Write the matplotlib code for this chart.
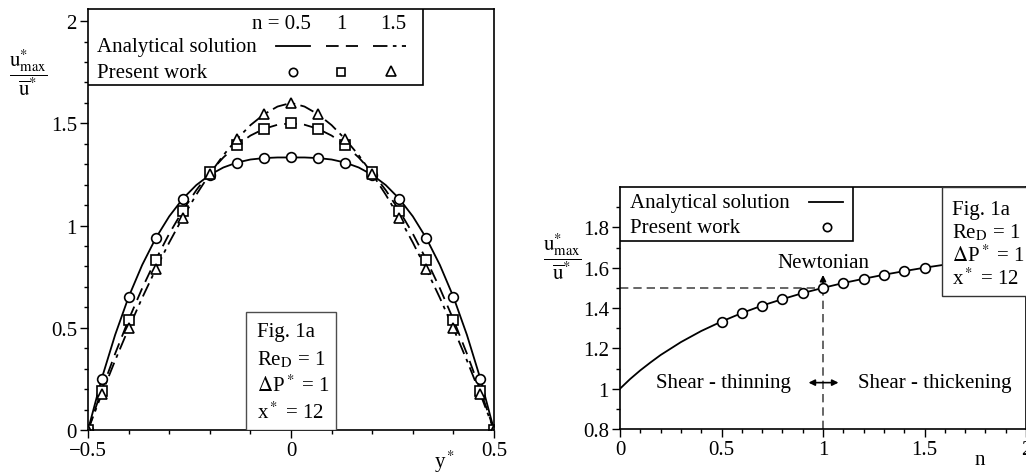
import matplotlib
matplotlib.use("Agg")
import matplotlib.pyplot as plt
from matplotlib.patches import Rectangle
from matplotlib.ticker import MultipleLocator, FixedLocator

plt.rcParams['font.family'] = ['Liberation Serif', 'DejaVu Serif']
plt.rcParams['mathtext.fontset'] = 'stix'
plt.rcParams['font.size'] = 15

# left panel: velocity profiles
y_line = [-0.5, -0.4667, -0.4333, -0.4, -0.3667, -0.3333, -0.3, -0.2667, -0.2333, -0.2,
          -0.1667, -0.1333, -0.1, -0.0667, -0.0333, 0.0, 0.0333, 0.0667, 0.1, 0.1333,
          0.1667, 0.2, 0.2333, 0.2667, 0.3, 0.3333, 0.3667, 0.4, 0.4333, 0.4667, 0.5]
u_n05 = [0.0, 0.249, 0.465, 0.651, 0.807, 0.938, 1.045, 1.131, 1.198, 1.248,
         1.284, 1.308, 1.323, 1.330, 1.333, 1.333, 1.333, 1.330, 1.323, 1.308,
         1.284, 1.248, 1.198, 1.131, 1.045, 0.938, 0.807, 0.651, 0.465, 0.249, 0.0]
u_n1 = [0.0, 0.193, 0.373, 0.540, 0.693, 0.833, 0.960, 1.073, 1.173, 1.260,
        1.333, 1.393, 1.440, 1.473, 1.493, 1.500, 1.493, 1.473, 1.440, 1.393,
        1.333, 1.260, 1.173, 1.073, 0.960, 0.833, 0.693, 0.540, 0.373, 0.193, 0.0]
u_n15 = [0.0, 0.174, 0.340, 0.497, 0.646, 0.786, 0.917, 1.039, 1.151, 1.253,
         1.344, 1.423, 1.491, 1.544, 1.582, 1.600, 1.582, 1.544, 1.491, 1.423,
         1.344, 1.253, 1.151, 1.039, 0.917, 0.786, 0.646, 0.497, 0.340, 0.174, 0.0]

y_pts = [-0.5, -0.4667, -0.4, -0.3333, -0.2667, -0.2, -0.1333, -0.0667, 0.0,
         0.0667, 0.1333, 0.2, 0.2667, 0.3333, 0.4, 0.4667, 0.5]
p_n05 = [0.0, 0.249, 0.651, 0.938, 1.131, 1.248, 1.308, 1.330, 1.333,
         1.330, 1.308, 1.248, 1.131, 0.938, 0.651, 0.249, 0.0]
p_n1 = [0.0, 0.193, 0.540, 0.833, 1.073, 1.260, 1.393, 1.473, 1.500,
        1.473, 1.393, 1.260, 1.073, 0.833, 0.540, 0.193, 0.0]
p_n15 = [0.0, 0.174, 0.497, 0.786, 1.039, 1.253, 1.423, 1.544, 1.600,
         1.544, 1.423, 1.253, 1.039, 0.786, 0.497, 0.174, 0.0]

# right panel: u_max / u_mean against n
n_line = [0.0, 0.025, 0.05, 0.1, 0.15, 0.2, 0.3, 0.4, 0.5, 0.6, 0.7, 0.8, 0.9, 1.0,
          1.1, 1.2, 1.3, 1.4, 1.5, 1.6, 1.7, 1.8, 1.9, 2.0]
r_line = [1.0, 1.024, 1.048, 1.091, 1.130, 1.167, 1.231, 1.286, 1.333, 1.375, 1.412,
          1.444, 1.474, 1.500, 1.524, 1.545, 1.565, 1.583, 1.600, 1.615, 1.630, 1.643,
          1.655, 1.667]
n_pts = [0.5, 0.6, 0.7, 0.8, 0.9, 1.0, 1.1, 1.2, 1.3, 1.4, 1.5]
r_pts = [1.333, 1.375, 1.412, 1.444, 1.474, 1.500, 1.524, 1.545, 1.565, 1.583, 1.600]

info_lines = ['Fig. 1a', 'Re$_\\mathrm{D}$ = 1', '$\\Delta$P$^*$ = 1', 'x$^*$ = 12']
ylab = r'$\dfrac{\mathrm{u}^{*}_{\mathrm{max}}}{\overline{\mathrm{u}}^{*}}$'

mk = dict(markerfacecolor='white', markeredgecolor='black', markeredgewidth=1.2,
          linestyle='none', markersize=7)

fig = plt.figure(figsize=(10.26, 4.77), dpi=100)
ax1 = fig.add_axes([0.0858, 0.0964, 0.3957, 0.883])
ax2 = fig.add_axes([0.6043, 0.0985, 0.3957, 0.5073])

for ax in (ax1, ax2):
    ax.tick_params(which='major', direction='out', length=6, width=1, pad=2)
    ax.tick_params(which='minor', direction='out', length=3, width=1)
    for s in ax.spines.values():
        s.set_linewidth(1.2)

# ---- left panel
ax1.plot(y_line, u_n05, color='black', lw=1.3, ls='-')
ax1.plot(y_line, u_n1, color='black', lw=1.3, ls=(0, (7, 4)))
ax1.plot(y_line, u_n15, color='black', lw=1.3, ls=(0, (8, 3, 2, 3)))
ax1.plot(y_pts, p_n05, marker='o', **mk)
ax1.plot(y_pts, p_n1, marker='s', **dict(mk, markersize=6.5))
ax1.plot(y_pts, p_n15, marker='^', **mk)
ax1.set_xlim(-0.5, 0.5)
ax1.set_ylim(0, 2.06)
ax1.xaxis.set_major_locator(FixedLocator([-0.5, 0, 0.5]))
ax1.xaxis.set_minor_locator(MultipleLocator(0.1))
ax1.yaxis.set_major_locator(FixedLocator([0, 0.5, 1, 1.5, 2]))
ax1.yaxis.set_minor_locator(MultipleLocator(0.1))
ax1.set_xticklabels(['\u22120.5', '0', '0.5'])
ax1.set_yticklabels(['0', '0.5', '1', '1.5', '2'])

# legend table
ax1.add_patch(Rectangle((0, 0.8195), 0.825, 0.1805, transform=ax1.transAxes,
                        facecolor='white', edgecolor='black', lw=1.2, zorder=5))
ax1.text(0.548, 0.964, 'n = 0.5', transform=ax1.transAxes, ha='right', va='center', zorder=6)
ax1.text(0.623, 0.964, '1', transform=ax1.transAxes, ha='center', va='center', zorder=6)
ax1.text(0.751, 0.964, '1.5', transform=ax1.transAxes, ha='center', va='center', zorder=6)
ax1.text(0.022, 0.910, 'Analytical solution', transform=ax1.transAxes, ha='left', va='center', zorder=6)
ax1.text(0.022, 0.850, 'Present work', transform=ax1.transAxes, ha='left', va='center', zorder=6)
ax1.plot([0.463, 0.547], [0.912, 0.912], transform=ax1.transAxes, color='black', lw=1.3, zorder=6)
ax1.plot([0.586, 0.665], [0.912, 0.912], transform=ax1.transAxes, color='black', lw=1.3,
         ls=(0, (7, 4)), zorder=6)
ax1.plot([0.702, 0.783], [0.912, 0.912], transform=ax1.transAxes, color='black', lw=1.3,
         ls=(0, (8, 3, 2, 3)), zorder=6)
ax1.plot([0.505], [0.850], transform=ax1.transAxes, marker='o', zorder=6, **dict(mk, markersize=6))
ax1.plot([0.623], [0.850], transform=ax1.transAxes, marker='s', zorder=6, **dict(mk, markersize=5.5))
ax1.plot([0.746], [0.852], transform=ax1.transAxes, marker='^', zorder=6, **dict(mk, markersize=7))

# info box
ax1.add_patch(Rectangle((0.389, 0), 0.222, 0.28, transform=ax1.transAxes,
                        facecolor='white', edgecolor='0.3', lw=1.0, zorder=5))
for i, t in enumerate(info_lines):
    ax1.text(0.416, 0.233 - i * 0.0635, t, transform=ax1.transAxes, ha='left', va='center', zorder=6)

fig.text(445 / 1026, 1 - 462 / 477, 'y$^*$', ha='center', va='center')
fig.text(28 / 1026, 1 - 73 / 477, ylab, ha='center', va='center', fontsize=15)

# ---- right panel
ax2.plot([0, 1], [1.5, 1.5], color='0.3', lw=1.2, ls=(0, (5, 3)))
ax2.plot([1, 1], [0.8, 1.5], color='0.3', lw=1.2, ls=(0, (5, 3)))
ax2.plot(n_line, r_line, color='black', lw=1.3, zorder=3)
ax2.plot(n_pts, r_pts, marker='o', zorder=4, **mk)
ax2.set_xlim(0, 2)
ax2.set_ylim(0.8, 2.0)
ax2.xaxis.set_major_locator(FixedLocator([0, 0.5, 1, 1.5, 2]))
ax2.xaxis.set_minor_locator(MultipleLocator(0.1))
ax2.yaxis.set_major_locator(FixedLocator([0.8, 1.0, 1.2, 1.4, 1.6, 1.8]))
ax2.yaxis.set_minor_locator(FixedLocator([0.9, 1.1, 1.3, 1.5, 1.7, 1.9]))
ax2.set_xticklabels(['0', '0.5', '1', '1.5', '2'])
ax2.set_yticklabels(['0.8', '1', '1.2', '1.4', '1.6', '1.8'])

ax2.annotate('', xy=(1, 1.578), xytext=(1, 1.5),
             arrowprops=dict(arrowstyle='-|>', color='black', lw=1.2, mutation_scale=9))
ax2.text(1, 1.625, 'Newtonian', ha='center', va='center')
ax2.annotate('', xy=(0.915, 1.03), xytext=(1.09, 1.03),
             arrowprops=dict(arrowstyle='<|-|>', color='black', lw=1.2, mutation_scale=9))
ax2.text(0.51, 1.03, 'Shear - thinning', ha='center', va='center')
ax2.text(1.55, 1.03, 'Shear - thickening', ha='center', va='center')

ax2.add_patch(Rectangle((0, 0.777), 0.574, 0.223, transform=ax2.transAxes,
                        facecolor='white', edgecolor='black', lw=1.2, zorder=5))
ax2.text(0.025, 0.936, 'Analytical solution', transform=ax2.transAxes, ha='left', va='center', zorder=6)
ax2.text(0.025, 0.833, 'Present work', transform=ax2.transAxes, ha='left', va='center', zorder=6)
ax2.plot([0.466, 0.549], [0.938, 0.938], transform=ax2.transAxes, color='black', lw=1.3, zorder=6)
ax2.plot([0.510], [0.835], transform=ax2.transAxes, marker='o', zorder=6, **dict(mk, markersize=6))

ax2.add_patch(Rectangle((0.793, 0.55), 0.3, 0.45, transform=ax2.transAxes,
                        facecolor='white', edgecolor='0.2', lw=1.0, zorder=5, clip_on=False))
for i, t in enumerate(info_lines):
    ax2.text(0.818, 0.909 - i * 0.0955, t, transform=ax2.transAxes, ha='left', va='center', zorder=6)

fig.text(980 / 1026, 1 - 461 / 477, 'n', ha='center', va='center')
fig.text(562 / 1026, 1 - 257 / 477, ylab, ha='center', va='center', fontsize=15)

fig.savefig('out.png', dpi=100)
